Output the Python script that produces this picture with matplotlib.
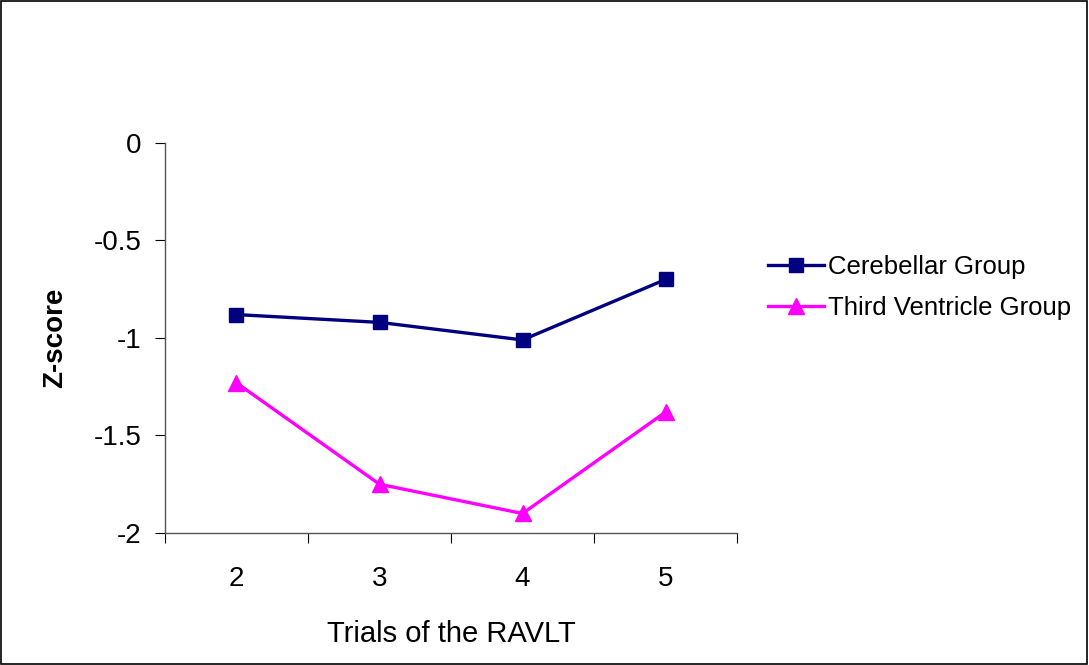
import numpy as np
import matplotlib
matplotlib.use("Agg")
import matplotlib.pyplot as plt
from matplotlib.patches import Rectangle

plt.rcParams['font.family'] = ['Liberation Sans', 'DejaVu Sans']

trials = ["2", "3", "4", "5"]
cerebellar = [-0.88, -0.92, -1.01, -0.70]
third_ventricle = [-1.23, -1.75, -1.90, -1.38]

fig = plt.figure(figsize=(10.89, 6.65), dpi=100)
ax = fig.add_axes([0.1515, 0.1985, 0.5253, 0.5865])

x = np.arange(len(trials))
ax.plot(x, cerebellar, color="#000080", lw=2.4, marker="s", ms=10,
        label="Cerebellar Group", clip_on=False)
ax.plot(x, third_ventricle, color="#FF00FF", lw=2.4, marker="^", ms=12,
        label="Third Ventricle Group", clip_on=False)

ax.set_xlim(-0.5, len(trials) - 0.5)
ax.set_ylim(-2, 0)
ax.set_yticks([0, -0.5, -1, -1.5, -2])
ax.set_yticklabels(["0", "-0.5", "-1", "-1.5", "-2"])

# category ticks between groups, labels at the centres
ax.set_xticks(np.arange(-0.5, len(trials), 1.0))
ax.set_xticklabels([])
ax.set_xticks(x, minor=True)
ax.set_xticklabels(trials, minor=True)
ax.tick_params(axis="x", which="major", direction="out", length=7, width=0.8)
ax.tick_params(axis="x", which="minor", length=0, pad=24, labelsize=20)
ax.tick_params(axis="y", direction="out", length=7, width=0.8, labelsize=20, pad=10)

for side in ["top", "right"]:
    ax.spines[side].set_visible(False)
for side in ["left", "bottom"]:
    ax.spines[side].set_color("#555555")
    ax.spines[side].set_linewidth(1.0)

ax.set_xlabel("Trials of the RAVLT", fontsize=21, labelpad=20)
ax.set_ylabel("Z-score", fontsize=20, fontweight="bold", labelpad=18)

ax.legend(loc="center left", bbox_to_anchor=(0.705, 0.568),
          bbox_transform=fig.transFigure, frameon=False,
          fontsize=18.5, handlelength=2.2, handletextpad=0.15, labelspacing=0.65,
          borderpad=0, borderaxespad=0)

# figure border
fig.patches.append(Rectangle((0.001, 0.001), 0.997, 0.997, transform=fig.transFigure,
                             fill=False, edgecolor="black", lw=1.2))

fig.savefig("out.png", dpi=100)
